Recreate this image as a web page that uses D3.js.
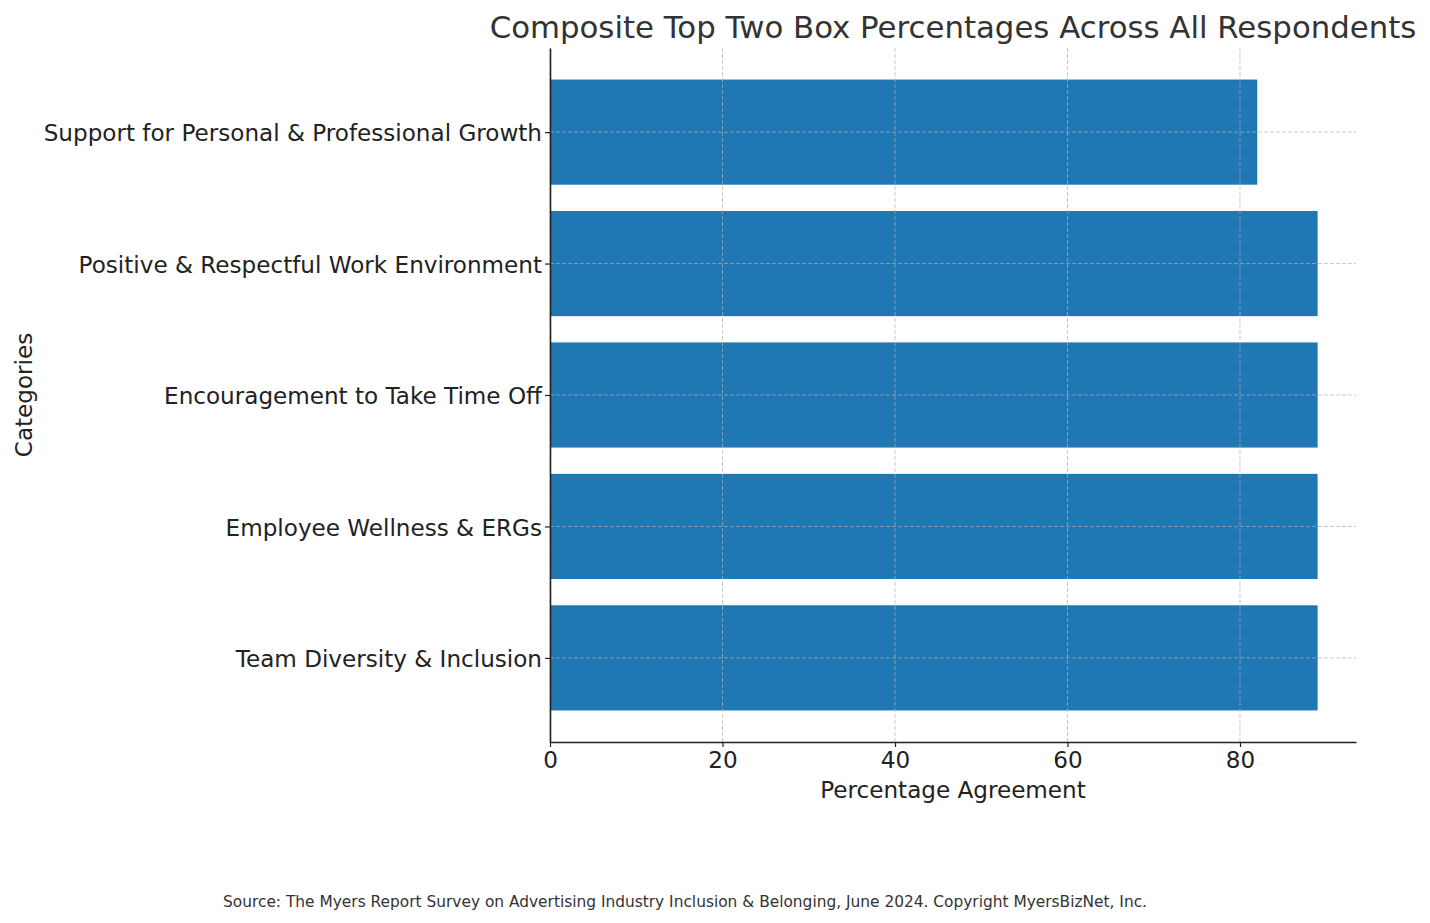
<!DOCTYPE html>
<html>
<head>
<meta charset="utf-8">
<script src="https://cdn.jsdelivr.net/npm/d3@7"></script>
<style>
  body { margin: 0; background: #fff; }
  svg { font-family: "DejaVu Sans", sans-serif; }
</style>
</head>
<body>
<svg id="chart" width="1430" height="923"></svg>
<script>
// bottom-to-top order, like matplotlib barh
const categories = [
  "Team Diversity & Inclusion",
  "Employee Wellness & ERGs",
  "Encouragement to Take Time Off",
  "Positive & Respectful Work Environment",
  "Support for Personal & Professional Growth"
];
const values = [89, 89, 89, 89, 82];
const xTicks = [0, 20, 40, 60, 80];

const title = "Composite Top Two Box Percentages Across All Respondents";
const xLabel = "Percentage Agreement";
const yLabel = "Categories";
const source = "Source: The Myers Report Survey on Advertising Industry Inclusion & Belonging, June 2024. Copyright MyersBizNet, Inc.";

const svg = d3.select("#chart");
const plot = { left: 550, right: 1356, top: 48, bottom: 742 };
const textColor = "#333";
const labelSize = 23.1;

const x = d3.scaleLinear().domain([0, 89 * 1.05]).range([plot.left, plot.right]);
const n = categories.length;
const pad = 0.05 * (n - 1 + 0.8);
const y = d3.scaleLinear().domain([-0.4 - pad, n - 1 + 0.4 + pad]).range([plot.bottom, plot.top]);
const barH = y(0) - y(0.8);

// bars
svg.append("g").selectAll("rect")
  .data(values)
  .join("rect")
  .attr("x", x(0))
  .attr("y", (d, i) => y(i + 0.4))
  .attr("width", d => x(d) - x(0))
  .attr("height", barH)
  .attr("fill", "#1f77b4");

// grid on top of bars
const grid = svg.append("g")
  .attr("stroke", "#b0b0b0")
  .attr("stroke-opacity", 0.7)
  .attr("stroke-width", 1)
  .attr("stroke-dasharray", "4,2");
grid.selectAll(".vg").data(xTicks).join("line")
  .attr("x1", d => x(d)).attr("x2", d => x(d))
  .attr("y1", plot.top).attr("y2", plot.bottom);
grid.selectAll(".hg").data(categories).join("line")
  .attr("x1", plot.left).attr("x2", plot.right)
  .attr("y1", (d, i) => y(i)).attr("y2", (d, i) => y(i));

// x axis
const xAxis = svg.append("g")
  .attr("transform", `translate(0,${plot.bottom})`)
  .call(d3.axisBottom(x).tickValues(xTicks).tickSize(5).tickPadding(5).tickSizeOuter(0));
xAxis.select(".domain").attr("stroke", "#222").attr("stroke-width", 1.6);
xAxis.selectAll(".tick line").attr("stroke", "#222").attr("stroke-width", 1.2);
xAxis.selectAll(".tick text")
  .attr("font-size", labelSize).attr("fill", "#222")
  .attr("font-family", "DejaVu Sans");

// y axis
const yAxis = svg.append("g")
  .attr("transform", `translate(${plot.left},0)`)
  .call(d3.axisLeft(y).tickValues(d3.range(n)).tickFormat(i => categories[i])
    .tickSize(5).tickPadding(3).tickSizeOuter(0));
yAxis.select(".domain").attr("stroke", "#222").attr("stroke-width", 1.6);
yAxis.selectAll(".tick line").attr("stroke", "#222").attr("stroke-width", 1.2);
yAxis.selectAll(".tick text")
  .attr("font-size", labelSize).attr("fill", "#222")
  .attr("dy", "0.37em")
  .attr("font-family", "DejaVu Sans");

// title and labels
svg.append("text")
  .attr("x", (plot.left + plot.right) / 2).attr("y", 38)
  .attr("text-anchor", "middle")
  .attr("font-size", 30.8).attr("fill", textColor)
  .text(title);

svg.append("text")
  .attr("x", (plot.left + plot.right) / 2).attr("y", 798)
  .attr("text-anchor", "middle")
  .attr("font-size", labelSize).attr("fill", "#222")
  .text(xLabel);

svg.append("text")
  .attr("transform", `translate(32,${(plot.top + plot.bottom) / 2}) rotate(-90)`)
  .attr("text-anchor", "middle")
  .attr("font-size", labelSize).attr("fill", "#222")
  .text(yLabel);

svg.append("text")
  .attr("x", 685).attr("y", 907)
  .attr("text-anchor", "middle")
  .attr("font-size", 15.4).attr("fill", textColor)
  .text(source);
</script>
</body>
</html>
